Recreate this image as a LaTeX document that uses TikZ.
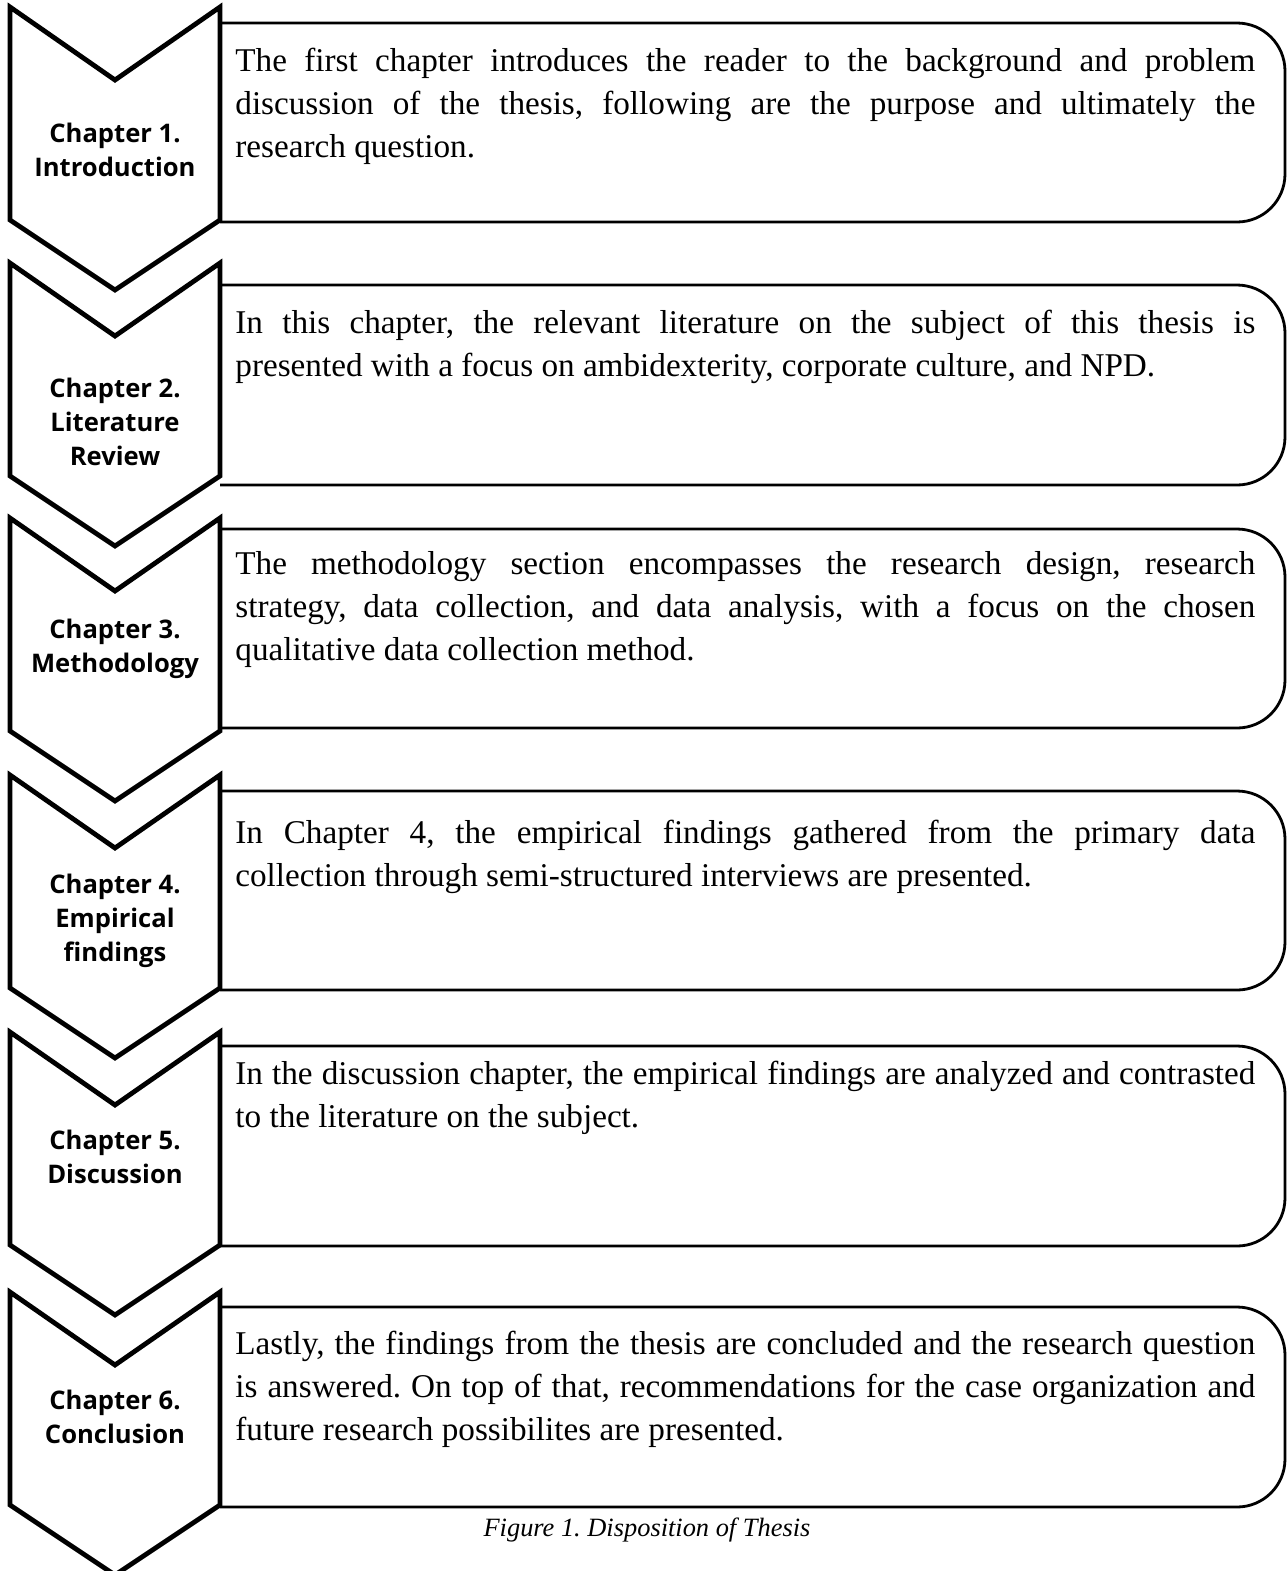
\documentclass[tikz,border=0pt]{standalone}
\usepackage{fontspec}
\setmainfont{Liberation Serif}
\newfontfamily\labelfont{Open Sans}

\tikzset{
    chevron/.style={draw, line width=2.4pt, fill=white, line join=miter},
    descbox/.style={draw, line width=1.4pt, rounded corners=24pt},
    chaplabel/.style={align=center, inner sep=0pt,
        font=\labelfont\bfseries\fontsize{12.8}{17}\selectfont},
    desctext/.style={text width=510pt, align=justify, inner sep=0pt,
        anchor=north west, font=\fontsize{16.6}{21.5}\selectfont\frenchspacing},
}

\begin{document}
\begin{tikzpicture}[x=0.5pt,y=-0.5pt]
    \useasboundingbox (0,0) rectangle (1287,1571);

    % boxes on the right
    \foreach \t/\b in {23/222,285/485,529/728,791/990,1046/1246,1307/1507}
    {
        \draw[descbox] (220,\t) -- (1285,\t) -- (1285,\b) -- (220,\b);
    }

    % chevrons on the left
    \foreach \t in {7,263,518,775,1032,1292}
    {
        \draw[chevron] (10,\t) -- (115,\t+73) -- (220,\t) -- (220,\t+213)
            -- (115,\t+283) -- (10,\t+213) -- cycle;
    }

    \node[chaplabel] (ch1) at (115,150) {Chapter 1.\\Introduction};
    \node[chaplabel] (ch2) at (115,422) {Chapter 2.\\Literature\\Review};
    \node[chaplabel] (ch3) at (115,649) {Chapter 3.\\Methodology};
    \node[chaplabel] (ch4) at (115,921) {Chapter 4.\\Empirical\\findings};
    \node[chaplabel] (ch5) at (115,1157) {Chapter 5.\\Discussion};
    \node[chaplabel] (ch6) at (115,1417) {Chapter 6.\\Conclusion};

    \node[desctext] (desc1) at (235,48) {The first chapter introduces the reader to the background and problem\linebreak
        discussion of the thesis, following are the purpose and ultimately the\linebreak
        research question.};
    \node[desctext] (desc2) at (235,310) {In this chapter, the relevant literature on the subject of this thesis is\linebreak
        presented with a focus on ambidexterity, corporate culture, and NPD.};
    \node[desctext] (desc3) at (235,551) {The methodology section encompasses the research design, research\linebreak
        strategy, data collection, and data analysis, with a focus on the chosen\linebreak
        qualitative data collection method.};
    \node[desctext] (desc4) at (235,820) {In Chapter 4, the empirical findings gathered from the primary data\linebreak
        collection through semi-structured interviews are presented.};
    \node[desctext] (desc5) at (235,1061) {In the discussion chapter, the empirical findings are analyzed and contrasted\linebreak
        to the literature on the subject.};
    \node[desctext] (desc6) at (235,1331) {Lastly, the findings from the thesis are concluded and the research question\linebreak
        is answered. On top of that, recommendations for the case organization and\linebreak
        future research possibilites are presented.};

    \node[font=\itshape\fontsize{13.2}{15}\selectfont\frenchspacing] (caption) at (647,1530)
        {Figure 1. Disposition of Thesis};
\end{tikzpicture}
\end{document}
